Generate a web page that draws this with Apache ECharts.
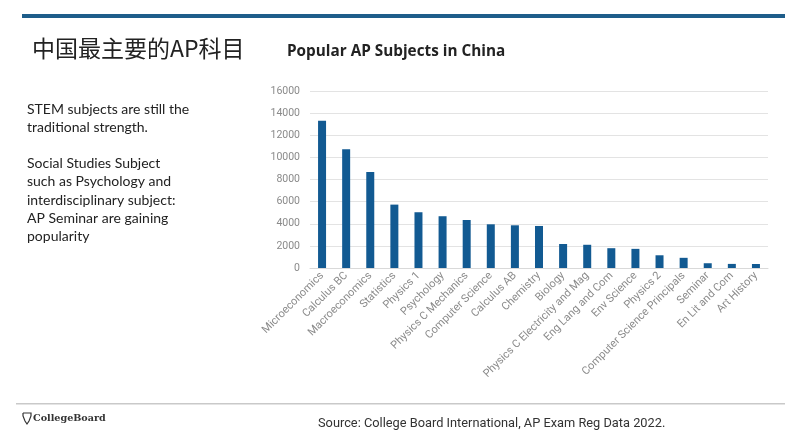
<!DOCTYPE html>
<html>
<head>
<meta charset="utf-8">
<script src="https://cdn.jsdelivr.net/npm/echarts@6/dist/echarts.min.js"></script>
<style>
  html, body { margin: 0; padding: 0; background: #fff; }
  #chart { width: 785px; height: 441px; }
</style>
</head>
<body>
<div id="chart"></div>
<script>
// AP exam registrations in China, 2022
const subjects = [
  "Microeconomics", "Calculus BC", "Macroeconomics", "Statistics", "Physics 1",
  "Psychology", "Physics C Mechanics", "Computer Science", "Calculus AB", "Chemistry",
  "Biology", "Physics C Electricity and Mag", "Eng Lang and Com", "Env Science", "Physics 2",
  "Computer Science Principals", "Seminar", "En Lit and Com", "Art History"
];
const registrations = [
  13320, 10730, 8670, 5730, 5040,
  4680, 4340, 3950, 3860, 3800,
  2170, 2100, 1790, 1730, 1150,
  920, 430, 370, 360
];
const yTicks = [0, 2000, 4000, 6000, 8000, 10000, 12000, 14000, 16000];

const notes = [
  "STEM subjects are still the",
  "traditional strength.",
  "",
  "Social Studies Subject",
  "such as Psychology and",
  "interdisciplinary subject:",
  "AP Seminar are gaining",
  "popularity"
];

const chart = echarts.init(document.getElementById("chart"));

const option = {
  backgroundColor: "#fff",
  animation: false,
  title: [
    {
      text: "中国最主要的AP科目",
      left: 27,
      top: 32,
      textStyle: {
        fontFamily: "Noto Sans CJK SC",
        fontSize: 23,
        fontWeight: "normal",
        color: "#222"
      }
    },
    {
      text: "Popular AP Subjects in China",
      left: 282,
      top: 39,
      textStyle: {
        fontFamily: "Open Sans",
        fontSize: 15.3,
        fontWeight: "bold",
        color: "#222"
      }
    }
  ],
  grid: { left: 310, right: 17, top: 91, bottom: 173 },
  xAxis: {
    type: "category",
    data: subjects,
    axisTick: { show: false },
    axisLine: { lineStyle: { color: "#d9d9d9" } },
    axisLabel: {
      interval: 0,
      rotate: 45,
      margin: 6,
      fontFamily: "Roboto",
      fontSize: 11,
      color: "#8a8a8a"
    }
  },
  yAxis: {
    type: "value",
    min: yTicks[0],
    max: yTicks[yTicks.length - 1],
    interval: 2000,
    axisLine: { show: false },
    axisTick: { show: false },
    splitLine: { lineStyle: { color: "#e3e3e3" } },
    axisLabel: {
      margin: 10,
      fontFamily: "Roboto",
      fontSize: 10.5,
      color: "#8a8a8a",
      formatter: (v) => String(v)
    }
  },
  series: [
    {
      type: "bar",
      data: registrations,
      barWidth: 8,
      itemStyle: { color: "#125a92" }
    }
  ],
  graphic: [
    // top rule
    { type: "rect", shape: { x: 22, y: 14, width: 763, height: 4 }, style: { fill: "#1e5d8a" } },
    // footer rule
    { type: "rect", shape: { x: 16, y: 403, width: 769, height: 1.5 }, style: { fill: "#c9c9c9" } },
    {
      type: "text",
      x: 27,
      y: 100,
      style: {
        text: notes.join("\n"),
        fontFamily: "Lato",
        fontSize: 14,
        lineHeight: 18.2,
        fill: "#222"
      }
    },
    // acorn mark
    {
      type: "polyline",
      shape: { points: [[23, 413], [31, 413], [31, 416], [29, 421], [27, 424], [25, 421], [23, 416], [23, 413]] },
      style: { fill: "none", stroke: "#333", lineWidth: 1.2 }
    },
    {
      type: "text",
      x: 33,
      y: 413,
      style: {
        text: "CollegeBoard",
        fontFamily: "DejaVu Serif",
        fontWeight: "bold",
        fontSize: 9.6,
        fill: "#333"
      }
    },
    {
      type: "text",
      x: 318,
      y: 417,
      style: {
        text: "Source: College Board International, AP Exam Reg Data 2022.",
        fontFamily: "Roboto",
        fontSize: 12.8,
        fill: "#333"
      }
    }
  ]
};

chart.setOption(option);
</script>
</body>
</html>
